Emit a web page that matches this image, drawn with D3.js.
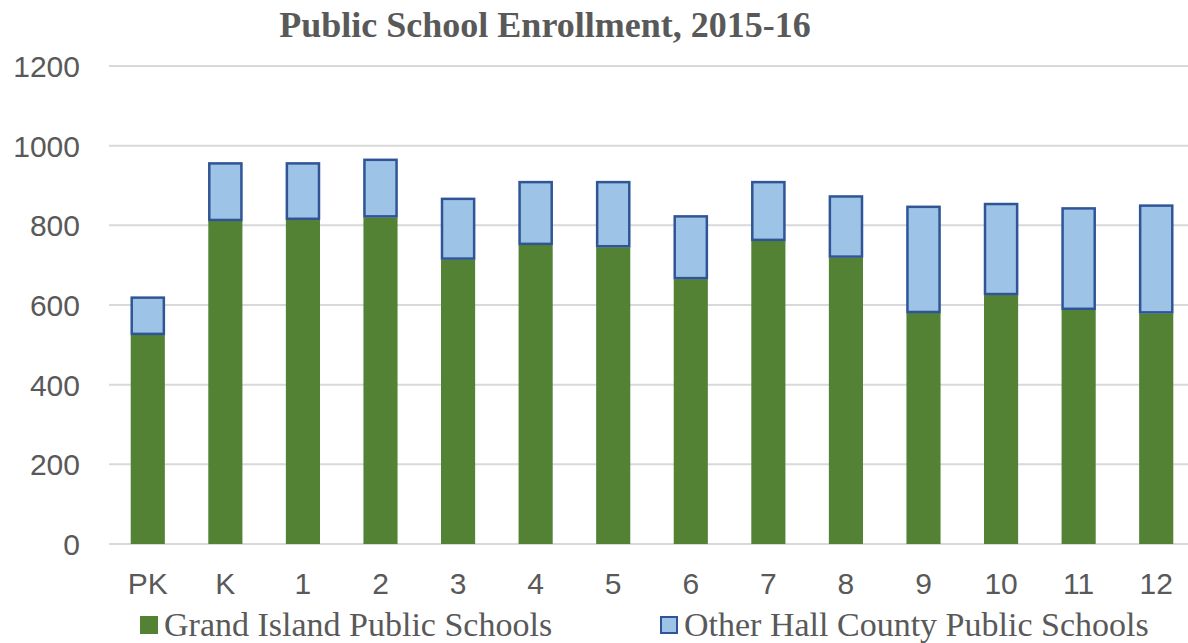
<!DOCTYPE html>
<html><head><meta charset="utf-8">
<script src="https://cdn.jsdelivr.net/npm/d3@7"></script>
<style>html,body{margin:0;padding:0;background:#fff;}</style>
</head><body>
<svg id="chart" width="1188" height="643"></svg>
<script>
const categories = ["PK","K","1","2","3","4","5","6","7","8","9","10","11","12"];
const grandIsland = [525, 811, 814, 820, 714, 751, 745, 665, 761, 719, 580, 625, 588, 579];
const otherHall   = [96, 147, 144, 147, 155, 160, 166, 160, 150, 156, 269, 231, 257, 273];
const yTicks = [0, 200, 400, 600, 800, 1000, 1200];
const seriesNames = ["Grand Island Public Schools", "Other Hall County Public Schools"];
const colors = ["#548235", "#9DC3E6"];
const strokeBlue = "#2F5597";

const svg = d3.select("#chart");
const margin = {left: 109, right: -7, top: 66, bottom: 99};
const W = 1188, H = 643;
const x = d3.scaleBand().domain(categories).range([margin.left, W - margin.right]).paddingInner(0.56).paddingOuter(0.28);
const y = d3.scaleLinear().domain([0, 1200]).range([544, 66]);

const data = categories.map((c, i) => ({cat: c, a: grandIsland[i], b: otherHall[i]}));

// gridlines
svg.append("g").selectAll("line").data(yTicks).join("line")
  .attr("x1", margin.left).attr("x2", W)
  .attr("y1", d => y(d)).attr("y2", d => y(d))
  .attr("stroke", "#d9d9d9").attr("stroke-width", 2);

// y axis labels
const yAxis = d3.axisLeft(y).tickValues(yTicks).tickFormat(d3.format("d")).tickSize(0).tickPadding(0);
const ya = svg.append("g").attr("transform", "translate(80,0)").call(yAxis);
ya.select(".domain").remove();
ya.selectAll("text").attr("font-family", "'Liberation Sans', Arial, sans-serif")
  .attr("font-size", 30).attr("fill", "#595959").attr("dy", "0.35em");

// x axis labels
const xAxis = d3.axisBottom(x).tickSize(0).tickPadding(0);
const xa = svg.append("g").attr("transform", "translate(0,583)").call(xAxis);
xa.select(".domain").remove();
xa.selectAll("text").attr("font-family", "'Liberation Sans', Arial, sans-serif")
  .attr("font-size", 30).attr("fill", "#595959").attr("dy", "0.35em");

// green bars
svg.append("g").selectAll("rect").data(data).join("rect")
  .attr("x", d => x(d.cat)).attr("width", x.bandwidth())
  .attr("y", d => y(d.a)).attr("height", d => y(0) - y(d.a))
  .attr("fill", colors[0]);

// blue bars
svg.append("g").selectAll("rect").data(data).join("rect")
  .attr("x", d => x(d.cat) + 1).attr("width", x.bandwidth() - 2)
  .attr("y", d => y(d.a + d.b) + 1).attr("height", d => y(d.a) - y(d.a + d.b) - 2)
  .attr("fill", colors[1]).attr("stroke", strokeBlue).attr("stroke-width", 2.5);

// title
svg.append("text").attr("x", 545).attr("y", 37).attr("text-anchor", "middle")
  .attr("font-family", "'Liberation Serif', 'Times New Roman', serif").attr("font-weight", "bold")
  .attr("font-size", 36).attr("fill", "#595959").text("Public School Enrollment, 2015-16");

// legend
const legendX = [140, 660];
const lg = svg.append("g").selectAll("g").data(seriesNames).join("g")
  .attr("transform", (d, i) => `translate(${legendX[i]},0)`);
lg.append("rect").attr("x", (d, i) => i ? 1 : 0).attr("y", (d, i) => i ? 617 : 616)
  .attr("width", (d, i) => i ? 16 : 18).attr("height", (d, i) => i ? 16 : 18)
  .attr("fill", (d, i) => colors[i])
  .attr("stroke", (d, i) => i ? strokeBlue : "none").attr("stroke-width", 2);
lg.append("text").attr("x", 24).attr("y", 636)
  .attr("font-family", "'Liberation Serif', 'Times New Roman', serif")
  .attr("font-size", 34).attr("fill", "#595959").text(d => d);
</script>
</body></html>
